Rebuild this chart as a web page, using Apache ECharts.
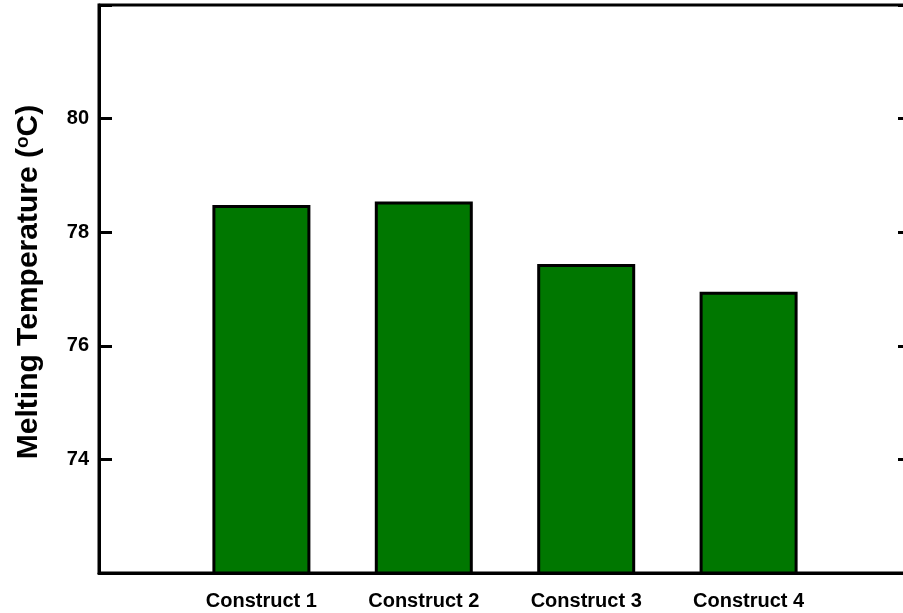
<!DOCTYPE html>
<html>
<head>
<meta charset="utf-8">
<style>
  html, body { margin: 0; padding: 0; background: #fff; }
  #chart { width: 903px; height: 613px; }
</style>
<script src="https://cdn.jsdelivr.net/npm/echarts@6/dist/echarts.min.js"></script>
</head>
<body>
<div id="chart"></div>
<script>
// Melting temperature of each construct (°C)
const constructs = ['Construct 1', 'Construct 2', 'Construct 3', 'Construct 4'];
const meltingTemps = [78.48, 78.54, 77.44, 76.95];
const yTicks = [74, 76, 78, 80];

const FONT = '"Liberation Sans", Arial, Helvetica, sans-serif';

const chart = echarts.init(document.getElementById('chart'), null, { renderer: 'canvas' });

const barData = meltingTemps.map((v, i) => [i + 1, v]);

chart.setOption({
  animation: false,
  backgroundColor: '#ffffff',
  grid: {
    left: 99, top: 5, width: 812, height: 568,
    outerBoundsMode: 'none', containLabel: false,
    show: true, borderColor: '#000', borderWidth: 3, backgroundColor: 'transparent'
  },
  xAxis: {
    type: 'value', min: 0, max: 5, interval: 1,
    axisLine: { show: true, lineStyle: { color: '#000', width: 3 } },
    axisTick: { show: false },
    splitLine: { show: false },
    axisLabel: {
      margin: 18,
      color: '#000', fontFamily: FONT, fontWeight: 'bold', fontSize: 20,
      formatter: v => constructs[v - 1] || ''
    }
  },
  yAxis: [{
    type: 'value', min: 72, max: 82, interval: 2, position: 'left',
    name: '{t|Melting Temperature (}{s|o}{t|C)}',
    nameLocation: 'middle', nameGap: 55, nameRotate: 90,
    nameTextStyle: {
      padding: [0, 0, 0, 14],
      rich: {
        t: { fontFamily: FONT, fontWeight: 'bold', fontSize: 30, color: '#000' },
        s: { fontFamily: FONT, fontWeight: 'bold', fontSize: 19, color: '#000', verticalAlign: 'top', padding: [0, 0, 12, 0] }
      }
    },
    axisLine: { show: true, lineStyle: { color: '#000', width: 3 } },
    axisTick: { show: true, inside: true, length: 13, lineStyle: { color: '#000', width: 3 } },
    splitLine: { show: false },
    axisLabel: {
      margin: 10,
      color: '#000', fontFamily: FONT, fontWeight: 'bold', fontSize: 20,
      formatter: v => yTicks.includes(v) ? String(v) : ''
    }
  }, {
    type: 'value', min: 72, max: 82, interval: 2, position: 'right',
    axisLine: { show: true, lineStyle: { color: '#000', width: 3 } },
    axisTick: { show: true, inside: true, length: 13, lineStyle: { color: '#000', width: 3 } },
    splitLine: { show: false },
    axisLabel: { show: false }
  }],
  series: [{
    type: 'bar',
    data: barData,
    barWidth: 98,
    itemStyle: { color: '#007700', borderColor: '#000', borderWidth: 3 }
  }]
});
</script>
</body>
</html>
